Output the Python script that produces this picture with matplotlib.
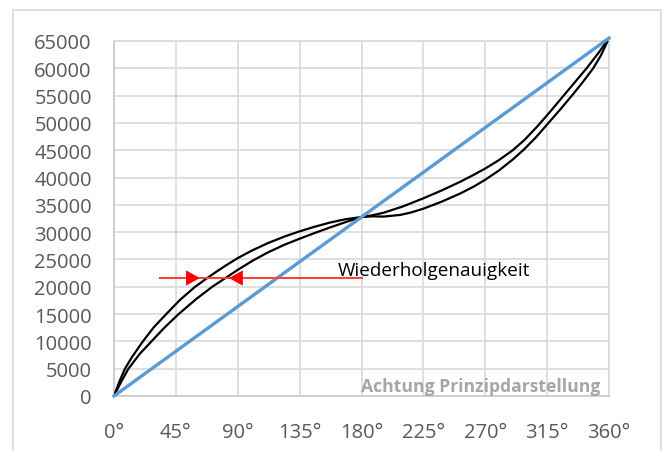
import matplotlib
matplotlib.use("Agg")
import matplotlib.pyplot as plt
from matplotlib.patches import Rectangle

# Winkel in Grad
ideal_x = [0, 360]
ideal_y = [0, 65535]

hin_x = [0, 4, 8, 13, 21, 29, 38, 48, 59, 67.5, 75, 82, 90, 100, 112, 124, 135, 146, 157, 168,
         180, 188, 196, 210, 225, 238, 252, 262, 270, 280, 290, 299, 308, 317, 326, 335, 344, 352, 360]
hin_y = [0, 2700, 5000, 7100, 10000, 12600, 15000, 17600, 20000, 21550, 22850, 24000,
         25250, 26600, 28000, 29200, 30150, 31000, 31750, 32350, 32768, 33100, 33550, 34700,
         36200, 37600, 39250, 40550, 41650, 43200, 45000, 47000, 49400, 52000, 54700, 57400,
         60100, 62700, 65535]

rueck_x = [0, 5, 10.5, 19, 28, 37, 47, 60, 72, 82, 90, 101, 112, 124, 135, 146, 157, 168,
           180, 188, 196, 208, 216, 225, 238, 252, 262, 270, 280, 290, 298, 307, 316, 325, 334,
           341, 348.5, 354, 360]
rueck_y = [0, 2500, 5000, 7800, 10200, 12600, 15000, 17800, 20100, 21750, 23100, 24800,
           26300, 27700, 28800, 29850, 30850, 31800, 32768, 32900, 32850, 33150, 33600, 34300,
           35550, 37100, 38400, 39600, 41300, 43300, 45100, 47400, 50000, 52600, 55300, 57500,
           60000, 62300, 65535]

x_ticks = [0, 45, 90, 135, 180, 225, 270, 315, 360]
y_ticks = list(range(0, 65001, 5000))

# Pfeil "Wiederholgenauigkeit"
pfeil_y = 21600
pfeil_start = 33.5
pfeil_ende = 180.5
pfeil_spitze1 = 62.5
pfeil_spitze2 = 83.6

fig = plt.figure(figsize=(6.68, 4.52), dpi=100)
ax = fig.add_axes([114 / 668, 55 / 452, 495 / 668, 355 / 452])

fig.patches.append(Rectangle((13 / 668, -0.05), 648 / 668, 1.05 - 11 / 452,
                             transform=fig.transFigure, fill=False,
                             edgecolor="#d9d9d9", lw=1.2))

ax.plot(hin_x, hin_y, color="black", lw=1.6, zorder=3)
ax.plot(rueck_x, rueck_y, color="black", lw=1.6, zorder=3)
ax.plot(ideal_x, ideal_y, color="#5b9bd5", lw=2.4, zorder=4, clip_on=False)

ax.plot([pfeil_start, pfeil_ende], [pfeil_y, pfeil_y], color="#ff3b3b", lw=1.4, zorder=5)
ax.annotate("", xy=(pfeil_spitze1, pfeil_y), xytext=(pfeil_start, pfeil_y),
            arrowprops=dict(arrowstyle="-|>,head_length=1.0,head_width=0.55",
                            color="red", lw=0, shrinkA=0, shrinkB=0), zorder=6)
ax.annotate("", xy=(pfeil_spitze2, pfeil_y), xytext=(pfeil_ende, pfeil_y),
            arrowprops=dict(arrowstyle="-|>,head_length=1.0,head_width=0.55",
                            color="red", lw=0, shrinkA=0, shrinkB=0), zorder=6)

ax.text(163, 22100, "Wiederholgenauigkeit", fontsize=13.6, family="Open Sans",
        color="black", va="baseline", ha="left", zorder=7)
ax.text(353.5, 900, "Achtung Prinzipdarstellung", fontsize=12.6, family="Open Sans",
        fontweight="bold", color="#a6a6a6", va="baseline", ha="right", zorder=7)

ax.set_xlim(0, 360)
ax.set_ylim(0, 65000)
ax.set_xticks(x_ticks)
ax.set_xticklabels([f"{d}°" for d in x_ticks])
ax.set_yticks(y_ticks)
ax.set_yticklabels([str(v) for v in y_ticks])
for lab in ax.get_xticklabels() + ax.get_yticklabels():
    lab.set_family("Open Sans")
    lab.set_fontsize(14.5)
    lab.set_color("#595959")
ax.tick_params(axis="x", length=0, pad=19)
ax.tick_params(axis="y", length=0, pad=16)

ax.grid(True, color="#d9d9d9", lw=1.2, zorder=0)
ax.set_axisbelow(True)
for s in ["top", "right"]:
    ax.spines[s].set_color("#d9d9d9")
    ax.spines[s].set_linewidth(1.2)
for s in ["left", "bottom"]:
    ax.spines[s].set_color("#c8c8c8")
    ax.spines[s].set_linewidth(1.2)

fig.savefig("out.png", dpi=100)
